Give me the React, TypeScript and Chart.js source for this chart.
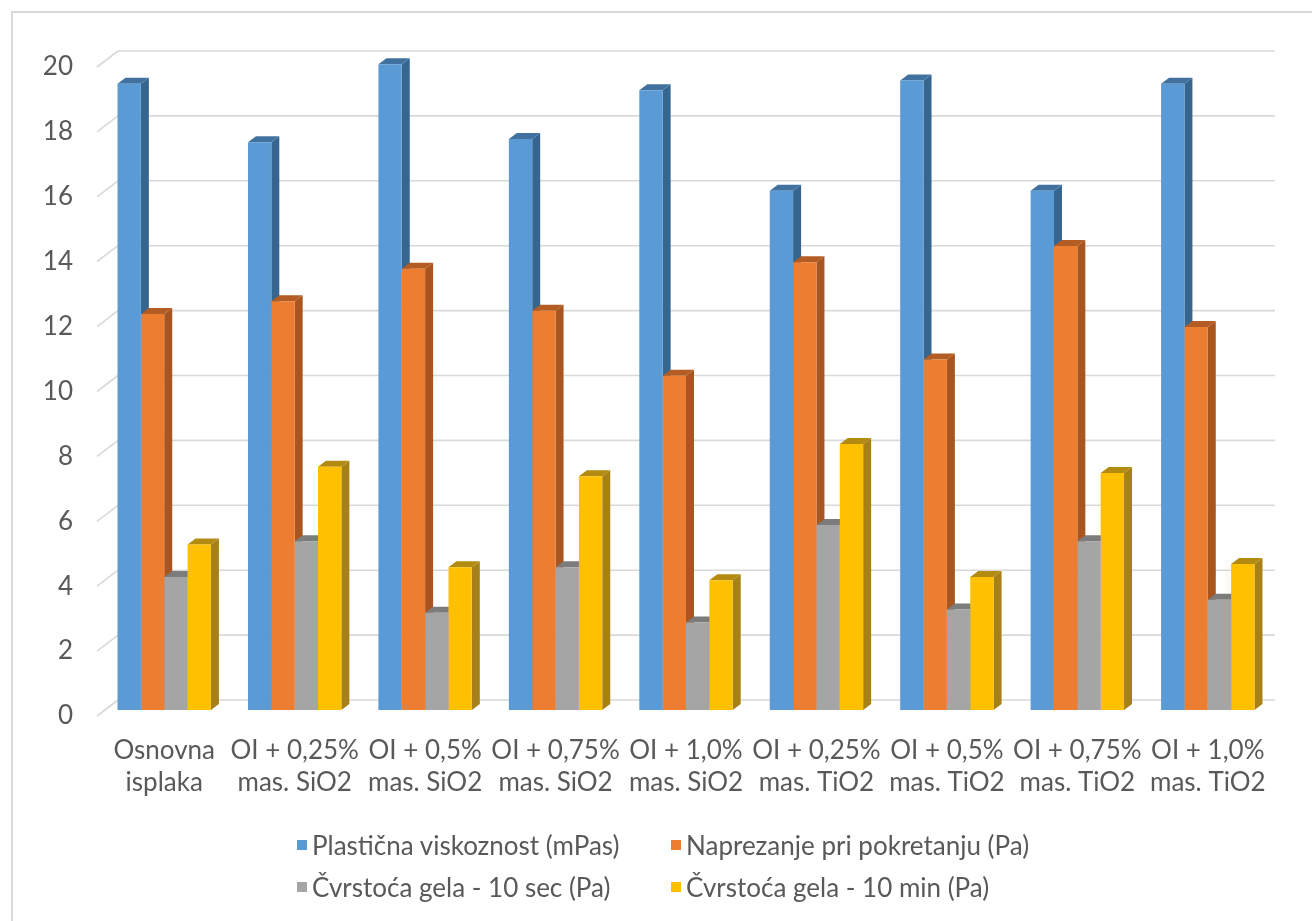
import React, { useEffect, useRef } from "react";
import { Chart, registerables } from "chart.js";

Chart.register(...registerables);

const CATEGORIES: string[][] = [
  ["Osnovna", "isplaka"],
  ["OI + 0,25%", "mas. SiO2"],
  ["OI + 0,5%", "mas. SiO2"],
  ["OI + 0,75%", "mas. SiO2"],
  ["OI + 1,0%", "mas. SiO2"],
  ["OI + 0,25%", "mas. TiO2"],
  ["OI + 0,5%", "mas. TiO2"],
  ["OI + 0,75%", "mas. TiO2"],
  ["OI + 1,0%", "mas. TiO2"],
];

const SERIES_NAMES = [
  "Plastična viskoznost (mPas)",
  "Naprezanje pri pokretanju (Pa)",
  "Čvrstoća gela - 10 sec (Pa)",
  "Čvrstoća gela - 10 min (Pa)",
];

const PLASTICNA = [19.3, 17.5, 19.9, 17.6, 19.1, 16.0, 19.4, 16.0, 19.3];
const NAPREZANJE = [12.2, 12.6, 13.6, 12.3, 10.3, 13.8, 10.8, 14.3, 11.8];
const GEL_10S = [4.1, 5.2, 3.0, 4.4, 2.7, 5.7, 3.1, 5.2, 3.4];
const GEL_10MIN = [5.1, 7.5, 4.4, 7.2, 4.0, 8.2, 4.1, 7.3, 4.5];

const Y_MIN = 0;
const Y_MAX = 20;
const Y_STEP = 2;

const FRONT = ["#5b9bd5", "#ed7d31", "#a5a5a5", "#ffc000"];
const SIDE = ["#36668f", "#a9551f", "#747474", "#a68117"];
const TOP = ["#41729f", "#b35c23", "#7c7c7c", "#b38b10"];

const FONT = 'Lato, "Open Sans", sans-serif';
const TEXT = "#595959";

const DX = 8;
const DY = 6;

const gridPlugin = {
  id: "backGrid",
  beforeDatasetsDraw(chart: any) {
    const ctx = chart.ctx;
    const ys = chart.scales.y;
    ctx.save();
    ctx.strokeStyle = "#d9d9d9";
    ctx.lineWidth = 1.6;
    for (let v = Y_MIN; v <= Y_MAX; v += Y_STEP) {
      const y = ys.getPixelForValue(v);
      ctx.beginPath();
      ctx.moveTo(118, y - 10);
      ctx.lineTo(1275, y - 10);
      ctx.stroke();
      ctx.beginPath();
      ctx.moveTo(97, y + 6);
      ctx.lineTo(118, y - 10);
      ctx.stroke();
    }
    // 3D side and top faces
    const n = chart.data.labels.length;
    for (let i = 0; i < n; i++) {
      for (let d = 0; d < chart.data.datasets.length; d++) {
        const el = chart.getDatasetMeta(d).data[i];
        if (!el) continue;
        const p = el.getProps(["x", "y", "base", "width"], true);
        const l = p.x - p.width / 2;
        const r = p.x + p.width / 2;
        const t = p.y;
        const b = p.base;
        ctx.fillStyle = SIDE[d];
        ctx.beginPath();
        ctx.moveTo(r, t);
        ctx.lineTo(r + DX, t - DY);
        ctx.lineTo(r + DX, b - DY);
        ctx.lineTo(r, b);
        ctx.closePath();
        ctx.fill();
        ctx.fillStyle = TOP[d];
        ctx.beginPath();
        ctx.moveTo(l, t);
        ctx.lineTo(l + DX, t - DY);
        ctx.lineTo(r + DX, t - DY);
        ctx.lineTo(r, t);
        ctx.closePath();
        ctx.fill();
      }
    }
    ctx.restore();
  },
};

export default function App() {
  const ref = useRef<HTMLCanvasElement | null>(null);

  useEffect(() => {
    if (!ref.current) return;
    const series = [PLASTICNA, NAPREZANJE, GEL_10S, GEL_10MIN];
    const chart = new Chart(ref.current, {
      type: "bar",
      data: {
        labels: CATEGORIES,
        datasets: series.map((data, i) => ({
          label: SERIES_NAMES[i],
          data,
          backgroundColor: FRONT[i],
          borderWidth: 0,
          categoryPercentage: 0.716,
          barPercentage: 1.0,
        })),
      },
      options: {
        responsive: false,
        animation: false,
        devicePixelRatio: 1,
        layout: { padding: { left: 0, right: 39, top: 61, bottom: 0 } },
        plugins: {
          legend: { display: false },
          tooltip: { enabled: false },
        },
        scales: {
          x: {
            grid: { display: false, drawTicks: false },
            border: { display: false },
            ticks: {
              color: TEXT,
              padding: 25,
              maxRotation: 0,
              autoSkip: false,
              font: { family: FONT, size: 26, lineHeight: "32px" },
            },
            afterFit(scale: any) {
              scale.height = 211;
              scale.paddingLeft = 0;
              scale.paddingRight = 0;
            },
          },
          y: {
            min: Y_MIN,
            max: Y_MAX,
            grid: { display: false, drawTicks: false },
            border: { display: false },
            ticks: {
              stepSize: Y_STEP,
              color: TEXT,
              padding: 26,
              font: { family: FONT, size: 26, lineHeight: "12px" },
              callback: (v: any) => ["", String(v)],
            },
            afterFit(scale: any) {
              scale.width = 99;
              scale.paddingTop = 0;
              scale.paddingBottom = 0;
            },
          },
        },
      },
      plugins: [gridPlugin],
    });
    return () => chart.destroy();
  }, []);

  const legendPos = [
    { left: 297, top: 845 },
    { left: 671, top: 845 },
    { left: 297, top: 887 },
    { left: 671, top: 887 },
  ];

  return (
    <div
      style={{
        position: "absolute",
        left: 0,
        top: 0,
        width: 1312,
        height: 921,
        overflow: "hidden",
        background: "#ffffff",
      }}
    >
      <div
        style={{
          position: "absolute",
          left: 11,
          top: 11,
          width: 1400,
          height: 1000,
          borderLeft: "2px solid #d9d9d9",
          borderTop: "2px solid #d9d9d9",
        }}
      />
      <canvas
        ref={ref}
        width={1312}
        height={921}
        style={{ position: "absolute", left: 0, top: 0, width: 1312, height: 921 }}
      />
      {SERIES_NAMES.map((name, i) => (
        <div
          key={name}
          style={{
            position: "absolute",
            left: legendPos[i].left,
            top: legendPos[i].top - 17,
            height: 34,
            display: "flex",
            alignItems: "center",
            fontFamily: FONT,
            fontSize: 26,
            color: TEXT,
            whiteSpace: "nowrap",
          }}
        >
          <span
            style={{
              display: "inline-block",
              width: 10,
              height: 10,
              background: FRONT[i],
              marginRight: 5,
            }}
          />
          <span>{name}</span>
        </div>
      ))}
    </div>
  );
}
